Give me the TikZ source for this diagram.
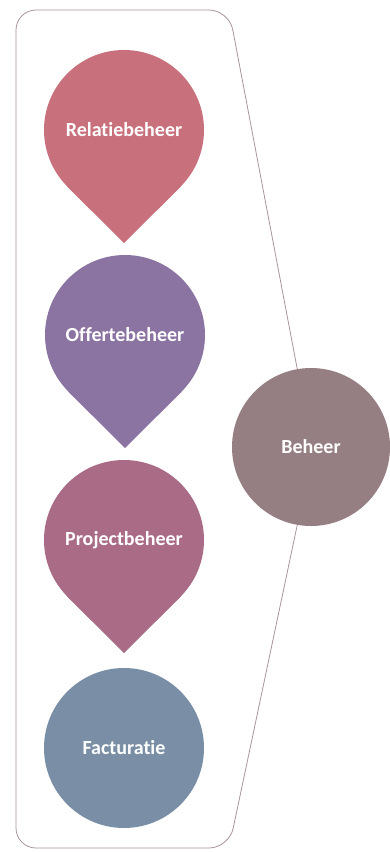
\documentclass[tikz,border=0pt]{standalone}
\usepackage{fontspec}
\setmainfont[Ligatures={NoCommon,NoRare,NoContextual}]{Carlito}
\usetikzlibrary{backgrounds}
\definecolor{cRel}{HTML}{C8707C}
\definecolor{cOff}{HTML}{8B74A1}
\definecolor{cPro}{HTML}{A96B86}
\definecolor{cFac}{HTML}{7A8FA6}
\definecolor{cBeh}{HTML}{957F82}
\definecolor{cLine}{HTML}{A8949A}
\tikzset{
  bubble/.style={circle, minimum size=160pt, inner sep=0pt, fill=#1,
    text=white, font=\fontsize{20}{22}\selectfont\bfseries},
  tipfill/.style={fill=#1},
  outline/.style={draw=cLine, line width=0.8pt, rounded corners=20pt}
}
\newcommand{\droptip}[2]{\fill[tipfill=#2] (#1.-135) -- ([yshift=-113pt]#1.center) -- (#1.-45) -- (#1.center) -- cycle;}
\begin{document}
\begin{tikzpicture}[x=1pt,y=1pt]
\useasboundingbox (0,0) rectangle (390,-852);
\node[bubble=cRel] (rel) at (124,-130) {Relatiebeheer};
\node[bubble=cOff] (off) at (125,-335) {Offertebeheer};
\node[bubble=cPro] (pro) at (124,-540) {Projectbeheer};
\node[bubble=cFac] (fac) at (124,-748) {Facturatie};
\node[bubble=cBeh, minimum size=158pt] (beh) at (311,-447) {Beheer};
\begin{scope}[on background layer]
  \droptip{rel}{cRel}
  \droptip{off}{cOff}
  \droptip{pro}{cPro}
  \coordinate (tr) at (229,-10);
  \coordinate (tl) at (16,-10);
  \coordinate (bl) at (16,-848);
  \coordinate (br) at (229,-848);
  \draw[outline] (beh.100) -- (tr) -- (tl) -- (bl) -- (br) -- (beh.260);
\end{scope}
\end{tikzpicture}
\end{document}
